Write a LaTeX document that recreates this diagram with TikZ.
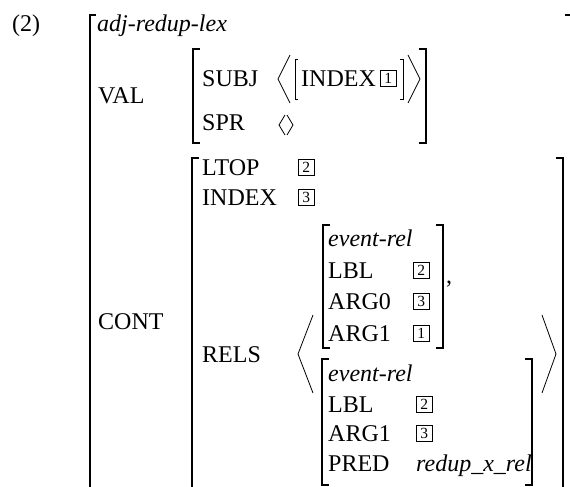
\documentclass[tikz,border=0pt]{standalone}
\usepackage{fontspec}
\setmainfont{Liberation Serif}
\usetikzlibrary{positioning}
\tikzset{
  avm/.style={anchor=base west, inner sep=0pt, font=\fontsize{24}{28}\selectfont},
  tagbox/.style={draw, line width=0.6pt, inner sep=0pt, minimum size=16pt, font=\fontsize{15.5}{15.5}\selectfont},
  brack/.style={line width=1.5pt},
  angl/.style={line width=0.8pt},
}

\begin{document}
\begin{tikzpicture}[x=1pt, y=-1pt]
\useasboundingbox (0,0) rectangle (570,487);
\node[avm] (exno) at (12,32) {(2)};
\draw[brack] (96,15) -- (90,15) -- (90,495);
\draw[brack] (565,15) -- (571,15) -- (571,495);
\node[avm] (type) at (97,32) {\textit{adj-redup-lex}};
% VAL
\node[avm] (val) at (98,103) {VAL};
\draw[brack] (200,49) -- (193,49) -- (193,143) -- (200,143);
\draw[brack] (419,49) -- (426,49) -- (426,143) -- (419,143);
\node[avm] (subj) at (202,86) {SUBJ};
\draw[angl] (290,55) -- (278,79) -- (290,103);
\draw[angl] (298,59) -- (295,59) -- (295,99) -- (298,99);
\node[avm] (subjidx) at (301,86) {INDEX};
\node[tagbox, right=4pt of subjidx] (tagA) {1};
\draw[angl] (400,59) -- (403,59) -- (403,99) -- (400,99);
\draw[angl] (408,55) -- (420,79) -- (408,103);
\node[avm] (spr) at (202,130) {SPR};
\draw[angl] (285,115) -- (279,125) -- (285,135);
\draw[angl] (287,115) -- (293,125) -- (287,135);
% CONT
\node[avm] (cont) at (98,329) {CONT};
\draw[brack] (199,158) -- (192,158) -- (192,495);
\draw[brack] (556,158) -- (563,158) -- (563,495);
\node[avm] (ltop) at (202,175) {LTOP};
\node[tagbox, anchor=west] (tagB) at (298,167.5) {2};
\node[avm] (index) at (202,205) {INDEX};
\node[tagbox, anchor=west] (tagC) at (298,197.5) {3};
\node[avm] (rels) at (202,362) {RELS};
\draw[angl] (313,315) -- (298,354) -- (313,393);
\draw[angl] (542,315) -- (556,354) -- (542,393);
% first event-rel
\draw[brack] (330,225) -- (323,225) -- (323,348) -- (330,348);
\draw[brack] (436,225) -- (443,225) -- (443,348) -- (436,348);
\node[avm] (relA) at (328,246) {\textit{event-rel}};
\node[avm] (lblA) at (328,278) {LBL};
\node[tagbox, anchor=west] (lblAval) at (413,270.5) {2};
\node[avm] (argzA) at (328,309) {ARG0};
\node[tagbox, anchor=west] (argzAval) at (413,301.5) {3};
\node[avm] (argoA) at (328,341) {ARG1};
\node[tagbox, anchor=west] (argoAval) at (413,333.5) {1};
\node[avm] (comma) at (446,283) {,};
% second event-rel
\draw[brack] (329,359) -- (322,359) -- (322,485) -- (329,485);
\draw[brack] (525,359) -- (532,359) -- (532,485) -- (525,485);
\node[avm] (relB) at (328,381) {\textit{event-rel}};
\node[avm] (lblB) at (328,412) {LBL};
\node[tagbox, anchor=west] (lblBval) at (416,404.5) {2};
\node[avm] (argoB) at (328,441) {ARG1};
\node[tagbox, anchor=west] (argoBval) at (416,433.5) {3};
\node[avm] (predB) at (328,471) {PRED};
\node[avm] (predBval) at (416,471) {\textit{redup\_x\_rel}};
\end{tikzpicture}
\end{document}
